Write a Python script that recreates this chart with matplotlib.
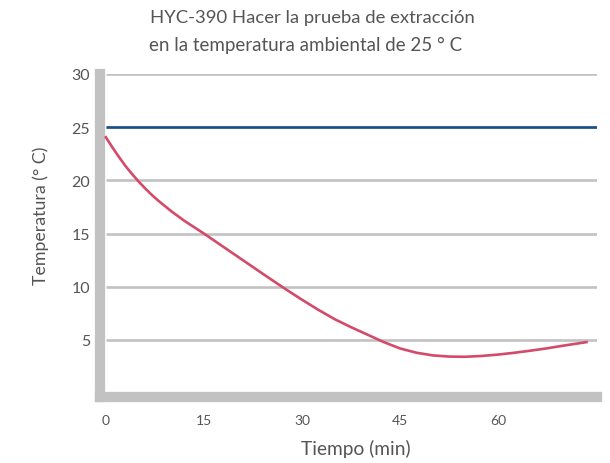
import matplotlib
matplotlib.use("Agg")
import matplotlib.pyplot as plt

# Data
tiempo = [0, 1, 2, 3, 4, 5, 6, 7, 8, 9, 10, 11, 12, 13, 14, 15, 17.5, 20, 22.5,
          25, 27.5, 30, 32.5, 35, 37.5, 40, 42.5, 45, 47.5, 50, 52.5, 55, 57.5,
          60, 62.5, 65, 67.5, 70, 73.5]
temperatura = [24.05, 23.1, 22.2, 21.35, 20.6, 19.9, 19.25, 18.65, 18.1, 17.6,
               17.1, 16.65, 16.2, 15.8, 15.4, 15.0, 13.95, 12.9, 11.85, 10.8,
               9.77, 8.78, 7.83, 6.95, 6.2, 5.5, 4.8, 4.2, 3.8, 3.55, 3.44,
               3.42, 3.5, 3.63, 3.8, 4.0, 4.22, 4.47, 4.8]
ambiente = 25
x_ticks = [0, 15, 30, 45, 60]
y_ticks = [5, 10, 15, 20, 25, 30]
title_l1 = "HYC-390 Hacer la prueba de extracción"
title_l2 = "en la temperatura ambiental de 25 ° C"
xlabel = "Tiempo (min)"
ylabel = "Temperatura (° C)"

FONT = ["Lato", "DejaVu Sans"]
plt.rcParams["font.family"] = FONT
TXT = "#555555"
GRAY = "#c2c2c2"

fig = plt.figure(figsize=(6.10, 4.64), dpi=100)
ax = fig.add_axes([100 / 610, (464 - 398) / 464, 497 / 610, 323 / 464])
ax.set_xlim(-0.9, 75.1)
ax.set_ylim(-0.36, 30)

for y in y_ticks:
    ax.plot([0, 75.1], [y, y], color=GRAY, lw=1.9, zorder=1, solid_capstyle="butt")

ax.plot([0, 75.1], [ambiente, ambiente], color="#1b4f8c", lw=1.9, zorder=3,
        solid_capstyle="butt")
ax.plot(tiempo, temperatura, color="#d44a69", lw=1.9, zorder=4,
        solid_joinstyle="round")

for s in ["top", "right"]:
    ax.spines[s].set_visible(False)
for s in ["left", "bottom"]:
    ax.spines[s].set_color(GRAY)
    ax.spines[s].set_linewidth(7.4)
    ax.spines[s].set_capstyle("projecting")
    ax.spines[s].set_zorder(2)

ax.set_xticks(x_ticks)
ax.set_xticklabels([str(v) for v in x_ticks])
ax.set_yticks(y_ticks)
ax.set_yticklabels([str(v) for v in y_ticks])
ax.tick_params(axis="both", length=0, colors=TXT)
ax.tick_params(axis="y", pad=7, labelsize=11.5)
ax.tick_params(axis="x", pad=12, labelsize=10)

fig.text(312 / 610, 1 - 18 / 464, title_l1, ha="center", va="center",
         fontsize=13.3, color=TXT)
fig.text(306 / 610, 1 - 45 / 464, title_l2, ha="center", va="center",
         fontsize=13.5, color=TXT)
fig.text(356 / 610, 1 - 449 / 464, xlabel, ha="center", va="center",
         fontsize=13.8, color=TXT)
fig.text(41 / 610, 1 - 216 / 464, ylabel, ha="center", va="center",
         rotation=90, fontsize=12.8, color=TXT)

fig.savefig("out.png", dpi=100)
